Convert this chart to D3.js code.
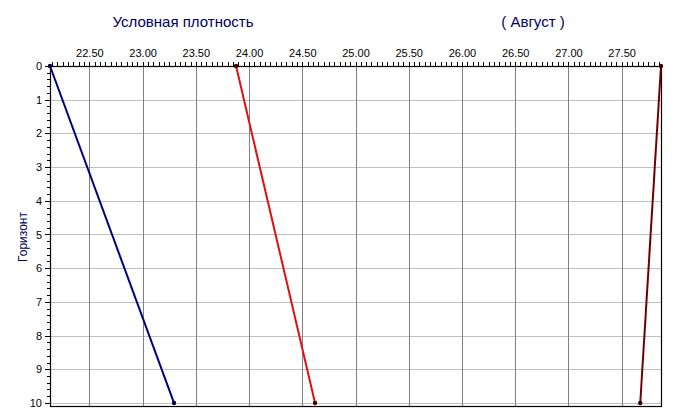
<!DOCTYPE html>
<html><head><meta charset="utf-8">
<script src="https://cdn.jsdelivr.net/npm/d3@7/dist/d3.min.js"></script>
<style>body{margin:0;background:#fff}svg{display:block;font-family:Arial,"Liberation Sans",sans-serif}</style>
</head><body><svg id="c" width="675" height="419"></svg>
<script>
const depths = [0, 10];
const seriesBlue = [22.13, 23.295];
const seriesRed = [23.878, 24.62];
const seriesDark = [27.87, 27.675];
const xTicks = [22.5, 23.0, 23.5, 24.0, 24.5, 25.0, 25.5, 26.0, 26.5, 27.0, 27.5];
const yTicks = [0,1,2,3,4,5,6,7,8,9,10];
const titleLeft = "Условная плотность";
const titleRight = "( Август )";
const yLabel = "Горизонт";

const svg = d3.select("#c");
const L = 50, R = 661, T = 66, B = 406;
const x = d3.scaleLinear().domain([22.13, 27.87]).range([L, R]);
const y = d3.scaleLinear().domain([0, 10.09]).range([T, B]);

// gridlines
svg.append("g").selectAll("line").data(yTicks).join("line")
  .attr("x1", L).attr("x2", R).attr("y1", d => Math.round(y(d)) + 0.5).attr("y2", d => Math.round(y(d)) + 0.5)
  .attr("stroke", "#c0c0c0").attr("stroke-width", 1);
svg.append("g").selectAll("line").data(xTicks).join("line")
  .attr("x1", d => Math.round(x(d)) + 0.5).attr("x2", d => Math.round(x(d)) + 0.5).attr("y1", T).attr("y2", B)
  .attr("stroke", "#808080").attr("stroke-width", 1);

// top axis
const xMinor = d3.range(22.15, 27.87, 0.05);
const topAx = svg.append("g").attr("transform", `translate(0,${T})`)
  .call(d3.axisTop(x).tickValues(xMinor).tickSize(4).tickFormat(""));
topAx.select(".domain").remove();
topAx.selectAll("line").attr("stroke", "#000").attr("shape-rendering", "crispEdges");
const topMaj = svg.append("g").attr("transform", `translate(0,${T})`)
  .call(d3.axisTop(x).tickValues(xTicks).tickSize(0).tickPadding(9).tickFormat(d3.format(".2f")));
topMaj.select(".domain").remove();
topMaj.selectAll("text").attr("font-size", 11).attr("font-family", "Arial, 'Liberation Sans', sans-serif").attr("fill", "#000");

// left axis
const yMinor = d3.range(0, 10.01, 0.2);
const leftAx = svg.append("g").attr("transform", `translate(${L},0)`)
  .call(d3.axisLeft(y).tickValues(yMinor).tickSize(3).tickFormat(""));
leftAx.select(".domain").remove();
leftAx.selectAll("line").attr("stroke", "#000").attr("shape-rendering", "crispEdges");
const leftMaj = svg.append("g").attr("transform", `translate(${L},0)`)
  .call(d3.axisLeft(y).tickValues(yTicks).tickSize(5).tickPadding(3).tickFormat(d3.format("d")));
leftMaj.select(".domain").remove();
leftMaj.selectAll("line").attr("stroke", "#000").attr("shape-rendering", "crispEdges");
leftMaj.selectAll("text").attr("font-size", 11).attr("font-family", "Arial, 'Liberation Sans', sans-serif").attr("fill", "#000");

// frame
svg.append("rect").attr("x", L + 0.5).attr("y", T + 0.5).attr("width", R - L).attr("height", B - T)
  .attr("fill", "none").attr("stroke", "#000").attr("stroke-width", 1.2);

// series
const series = [
  {v: seriesBlue, c: "#000080", m: "#000040"},
  {v: seriesRed, c: "#e01010", m: "#400000"},
  {v: seriesDark, c: "#700000", m: "#300000"}
];
const line = d3.line().x(d => x(d[0])).y(d => y(d[1]));
series.forEach(s => {
  const pts = s.v.map((v, i) => [v, depths[i]]);
  svg.append("path").attr("d", line(pts)).attr("fill", "none").attr("stroke", s.c).attr("stroke-width", 2);
  svg.append("g").selectAll("circle").data(pts).join("circle")
    .attr("cx", d => x(d[0])).attr("cy", d => y(d[1])).attr("r", 2.2).attr("fill", s.m);
});

// titles
svg.append("text").attr("x", 183).attr("y", 27).attr("text-anchor", "middle")
  .attr("font-size", 15).attr("fill", "#000060").text(titleLeft);
svg.append("text").attr("x", 533).attr("y", 27).attr("text-anchor", "middle")
  .attr("font-size", 15).attr("fill", "#000060").text(titleRight);
svg.append("text").attr("transform", "translate(27,237) rotate(-90)").attr("text-anchor", "middle")
  .attr("font-size", 12).attr("fill", "#000060").text(yLabel);
</script></body></html>
